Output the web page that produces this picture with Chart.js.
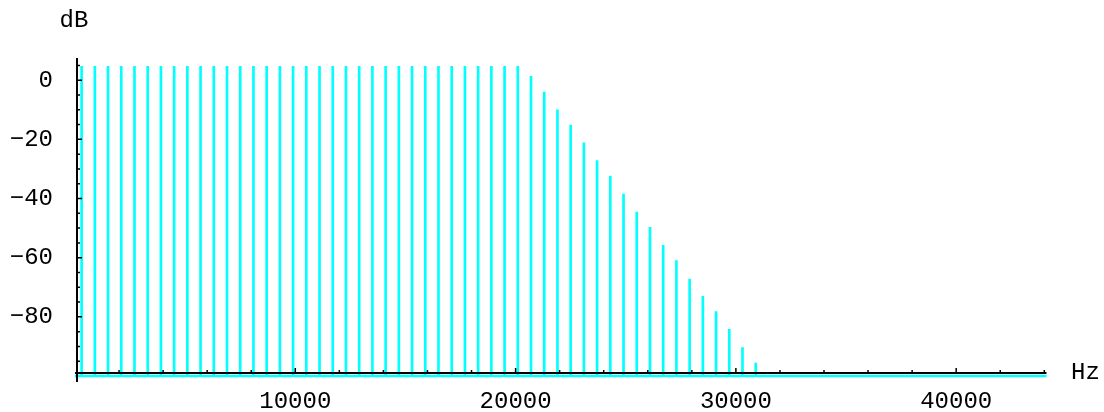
<!DOCTYPE html>
<html>
<head>
<meta charset="utf-8">
<script src="https://cdn.jsdelivr.net/npm/chart.js@4"></script>
<style>
  html, body { margin: 0; padding: 0; background: #fff; }
  #wrap { width: 1104px; height: 412px; }
</style>
</head>
<body>
<div id="wrap"><canvas id="spectrum" width="1104" height="412"></canvas></div>
<script>
// Bin centre frequencies (Hz)
const freqs = [
    300, 900, 1500, 2100, 2700, 3300, 3900, 4500, 5100, 5700,
    6300, 6900, 7500, 8100, 8700, 9300, 9900, 10500, 11100, 11700,
    12300, 12900, 13500, 14100, 14700, 15300, 15900, 16500, 17100, 17700,
    18300, 18900, 19500, 20100, 20700, 21300, 21900, 22500, 23100, 23700,
    24300, 24900, 25500, 26100, 26700, 27300, 27900, 28500, 29100, 29700,
    30300, 30900, 31500, 32100, 32700, 33300, 33900, 34500, 35100, 35700,
    36300, 36900, 37500, 38100, 38700, 39300, 39900, 40500, 41100, 41700,
    42300, 42900, 43500, 44100
];

// Level per bin (dB)
const levels = [
    4.7, 4.7, 4.7, 4.7, 4.7, 4.7, 4.7, 4.7, 4.7, 4.7,
    4.7, 4.7, 4.7, 4.7, 4.7, 4.7, 4.7, 4.7, 4.7, 4.7,
    4.7, 4.7, 4.7, 4.7, 4.7, 4.7, 4.7, 4.7, 4.7, 4.7,
    4.7, 4.7, 4.7, 4.7, 1.3, -4.0, -10.0, -15.2, -21.2, -27.2,
    -32.4, -38.5, -44.6, -49.7, -55.8, -61.0, -67.2, -73.1, -78.2, -84.2,
    -90.4, -95.6, -100, -100, -100, -100, -100, -100, -100, -100,
    -100, -100, -100, -100, -100, -100, -100, -100, -100, -100,
    -100, -100, -100, -100
];

const floorDb = -100;
const xTickLabels = [10000, 20000, 30000, 40000];
const xMinorTicks = [2000, 4000, 6000, 8000, 12000, 14000, 16000, 18000, 22000, 24000, 26000, 28000,
    32000, 34000, 36000, 38000, 42000, 44000];
const yTickLabels = [0, -20, -40, -60, -80];
const yMinorTicks = [5, -5, -10, -15, -25, -30, -35, -45, -50, -55, -65, -70, -75, -85, -90, -95];

const FONT = '"Liberation Mono", "Courier New", monospace';
const CYAN = '#00ffff';

// black axes with inward ticks, plus the dB / Hz labels
const axesPlugin = {
    id: 'mathAxes',
    afterDatasetsDraw(chart) {
        const { ctx, scales: { x, y } } = chart;
        const axisY = y.getPixelForValue(-99);
        const axisX = x.getPixelForValue(0) + 2;
        ctx.save();
        ctx.strokeStyle = '#000';
        ctx.lineWidth = 2;
        ctx.beginPath();
        ctx.moveTo(x.getPixelForValue(0), axisY);
        ctx.lineTo(x.getPixelForValue(44100), axisY);
        ctx.moveTo(axisX, y.top);
        ctx.lineTo(axisX, y.bottom + 6);
        ctx.stroke();

        ctx.lineWidth = 1.5;
        ctx.beginPath();
        xTickLabels.forEach(v => {
            const px = x.getPixelForValue(v);
            ctx.moveTo(px, axisY); ctx.lineTo(px, axisY - 5);
        });
        xMinorTicks.forEach(v => {
            const px = x.getPixelForValue(v);
            ctx.moveTo(px, axisY); ctx.lineTo(px, axisY - 3);
        });
        yTickLabels.forEach(v => {
            const py = y.getPixelForValue(v);
            ctx.moveTo(axisX, py); ctx.lineTo(axisX + 5, py);
        });
        yMinorTicks.forEach(v => {
            const py = y.getPixelForValue(v);
            ctx.moveTo(axisX, py); ctx.lineTo(axisX + 3, py);
        });
        ctx.stroke();

        ctx.fillStyle = '#000';
        ctx.font = '24px ' + FONT;
        ctx.textBaseline = 'middle';
        ctx.textAlign = 'center';
        ctx.fillText('dB', 74, 21);
        ctx.textAlign = 'left';
        ctx.fillText('Hz', 1071, axisY);
        ctx.restore();
    }
};

const ctx = document.getElementById('spectrum').getContext('2d');
new Chart(ctx, {
    type: 'bar',
    data: {
        datasets: [
            {
                type: 'line',
                data: [{ x: 0, y: floorDb }, { x: 44100, y: floorDb }],
                borderColor: CYAN,
                borderWidth: 2.5,
                pointRadius: 0,
                clip: 6,
                order: 2
            },
            {
                type: 'bar',
                data: freqs.map((f, i) => ({ x: f, y: [floorDb, levels[i]] })),
                backgroundColor: CYAN,
                borderWidth: 0,
                barThickness: 2,
                order: 1
            }
        ]
    },
    options: {
        responsive: false,
        animation: false,
        devicePixelRatio: 1,
        layout: { padding: { top: 58, right: 57.5, left: 0, bottom: 0 } },
        plugins: { legend: { display: false }, tooltip: { enabled: false } },
        scales: {
            x: {
                type: 'linear',
                min: 0,
                max: 44100,
                offset: false,
                grid: { display: false },
                border: { display: false },
                afterBuildTicks: s => { s.ticks = xTickLabels.map(v => ({ value: v })); },
                afterFit: s => { s.height = 36; },
                ticks: {
                    autoSkip: false,
                    maxRotation: 0,
                    padding: 3,
                    color: '#000',
                    font: { family: FONT, size: 24 },
                    callback: v => String(v)
                }
            },
            y: {
                min: floorDb,
                max: 7.5,
                grid: { display: false },
                border: { display: false },
                afterBuildTicks: s => { s.ticks = yTickLabels.map(v => ({ value: v })); },
                afterFit: s => { s.width = 75; },
                ticks: {
                    padding: 14,
                    color: '#000',
                    font: { family: FONT, size: 24 },
                    callback: v => String(v).replace('-', '\u2212')
                }
            }
        }
    },
    plugins: [axesPlugin]
});
</script>
</body>
</html>
